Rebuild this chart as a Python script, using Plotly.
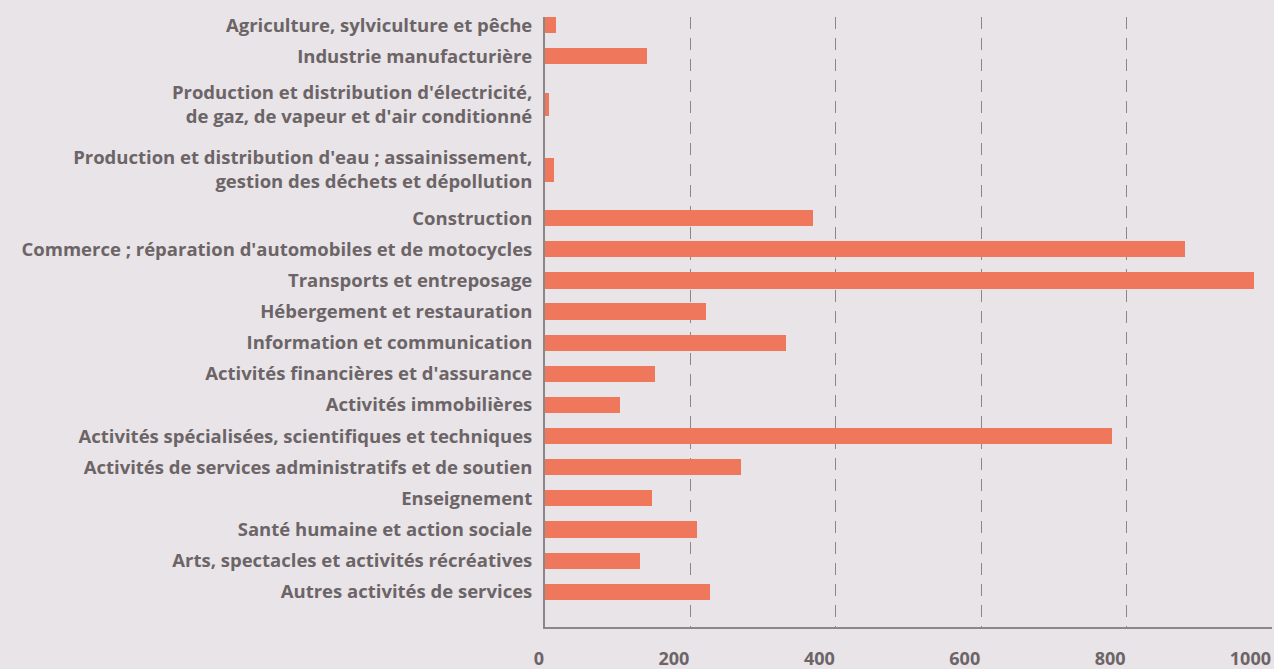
import plotly.graph_objects as go

categories = [
    "Agriculture, sylviculture et pêche",
    "Industrie manufacturière",
    "Production et distribution d'électricité,<br>de gaz, de vapeur et d'air conditionné",
    "Production et distribution d'eau ; assainissement,<br>gestion des déchets et dépollution",
    "Construction",
    "Commerce ; réparation d'automobiles et de motocycles",
    "Transports et entreposage",
    "Hébergement et restauration",
    "Information et communication",
    "Activités financières et d'assurance",
    "Activités immobilières",
    "Activités spécialisées, scientifiques et techniques",
    "Activités de services administratifs et de soutien",
    "Enseignement",
    "Santé humaine et action sociale",
    "Arts, spectacles et activités récréatives",
    "Autres activités de services",
]
values = [15, 140, 5, 12, 369, 880, 975, 221, 331, 151, 103, 780, 270, 147, 209, 131, 227]
x_ticks = [0, 200, 400, 600, 800, 1000]

# layout derived from the number of lines in each label
BAND_SINGLE, BAND_EXTRA = 1.0, 1.1
THICK_SINGLE, THICK_EXTRA = 0.52, 0.25
positions, thickness = [], []
acc = 0.0
for lab in categories:
    n = lab.count("<br>") + 1
    band = BAND_SINGLE + BAND_EXTRA * (n - 1)
    positions.append(acc + band / 2)
    thickness.append(THICK_SINGLE + THICK_EXTRA * (n - 1))
    acc += band

y_top = positions[0] - thickness[0] / 2
y_bottom = positions[-1] + thickness[-1] / 2 + 0.87

TEXT = "#6c6467"
BG = "#e8e4e7"
BAR = "#ef775b"
GRID = "#8c8689"
FONT = "Open Sans"

fig = go.Figure(
    go.Bar(
        x=values,
        y=positions,
        width=thickness,
        orientation="h",
        marker=dict(color=BAR, line=dict(width=0)),
        hoverinfo="x",
    )
)

fig.update_layout(
    width=1274,
    height=669,
    paper_bgcolor=BG,
    plot_bgcolor=BG,
    margin=dict(l=545, r=2, t=17, b=42, autoexpand=False),
    showlegend=False,
    bargap=0,
)

fig.update_xaxes(
    range=[0, 1000],
    tickvals=x_ticks,
    ticktext=[str(v) for v in x_ticks],
    showgrid=True,
    gridcolor=GRID,
    gridwidth=1.3,
    griddash="12px,9px",
    zeroline=False,
    showline=True,
    linecolor=GRID,
    linewidth=2,
    ticks="",
    ticklabelposition="outside left",
    ticklabelstandoff=14,
    tickfont=dict(family=FONT, size=18, color=TEXT, weight="bold"),
    automargin=False,
)

fig.update_yaxes(
    range=[y_bottom, y_top],
    tickvals=positions,
    ticktext=categories,
    showgrid=False,
    zeroline=False,
    showline=True,
    linecolor=GRID,
    linewidth=2,
    ticks="",
    ticklabelstandoff=7,
    tickfont=dict(family=FONT, size=18.5, color=TEXT, weight="bold"),
    automargin=False,
)

fig.write_html(
    "out.html",
    config={"displayModeBar": False},
    post_script="document.body.style.margin='0';document.body.style.overflow='hidden';",
)
